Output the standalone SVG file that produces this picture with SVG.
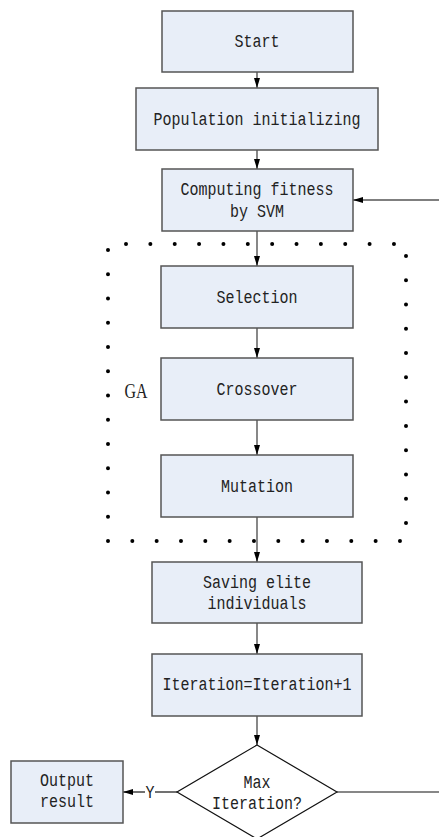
<svg xmlns="http://www.w3.org/2000/svg" width="439" height="837" viewBox="0 0 439 837">
<style>
.box{fill:#e8eef8;stroke:#555;stroke-width:1.5}
.t{font-family:"Liberation Mono","DejaVu Sans Mono",monospace;font-size:18px;fill:#222;text-anchor:middle}
.c{stroke:#555;stroke-width:1.4;fill:none}
.k{stroke:#111;stroke-width:1.2;fill:none}
.dot{stroke:#000;stroke-width:4;stroke-linecap:round;fill:none}
</style>
<defs>
<marker id="ah" viewBox="0 0 10 6" refX="10" refY="3" markerWidth="10" markerHeight="6" markerUnits="userSpaceOnUse" orient="auto">
<path d="M0,0 L10,3 L0,6 Z" fill="#000"/>
</marker>
</defs>
<rect width="439" height="837" fill="#fff"/>
<g id="ga-border">
<line class="dot" x1="126" y1="244" x2="394" y2="244" stroke-dasharray="0 24.36"/>
<line class="dot" x1="108" y1="250" x2="108" y2="541" stroke-dasharray="0 24.25"/>
<line class="dot" x1="108" y1="541" x2="400" y2="541" stroke-dasharray="0 24.33"/>
<line class="dot" x1="406" y1="256" x2="406" y2="523" stroke-dasharray="0 24.27"/>
<text class="t" x="136" y="398" style="font-family:'Liberation Serif',serif;font-size:20px" textLength="23" lengthAdjust="spacingAndGlyphs">GA</text>
</g>
<g id="connectors">
<line class="c" x1="257" y1="72" x2="257" y2="88" marker-end="url(#ah)"/>
<line class="c" x1="257" y1="150" x2="257" y2="169" marker-end="url(#ah)"/>
<line class="c" x1="439" y1="200" x2="353" y2="200" marker-end="url(#ah)"/>
<line class="c" x1="257" y1="231" x2="257" y2="266" marker-end="url(#ah)"/>
<line class="c" x1="257" y1="328" x2="257" y2="358" marker-end="url(#ah)"/>
<line class="c" x1="257" y1="420" x2="257" y2="455" marker-end="url(#ah)"/>
<line class="c" x1="257" y1="517" x2="257" y2="562" marker-end="url(#ah)"/>
<line class="c" x1="257" y1="623" x2="257" y2="654" marker-end="url(#ah)"/>
<line class="c" x1="257" y1="716" x2="257" y2="745" marker-end="url(#ah)"/>
<line class="k" x1="177" y1="792" x2="155" y2="792"/>
<line class="k" x1="145" y1="792" x2="123" y2="792" marker-end="url(#ah)"/>
<text class="t" x="150" y="798" textLength="9" lengthAdjust="spacingAndGlyphs">Y</text>
<line class="k" x1="337" y1="792" x2="439" y2="792"/>
</g>
<g id="start"><rect class="box" x="162" y="11" width="191" height="61"/><text class="t" x="257" y="47" textLength="45" lengthAdjust="spacingAndGlyphs">Start</text></g>
<g id="population"><rect class="box" x="136" y="88" width="242" height="62"/><text class="t" x="257" y="125" textLength="207" lengthAdjust="spacingAndGlyphs">Population initializing</text></g>
<g id="fitness"><rect class="box" x="162" y="169" width="191" height="62"/><text class="t" x="257" y="195" textLength="153" lengthAdjust="spacingAndGlyphs">Computing fitness</text><text class="t" x="257" y="217" textLength="54" lengthAdjust="spacingAndGlyphs">by SVM</text></g>
<g id="selection"><rect class="box" x="161" y="266" width="192" height="62"/><text class="t" x="257" y="303" textLength="81" lengthAdjust="spacingAndGlyphs">Selection</text></g>
<g id="crossover"><rect class="box" x="161" y="358" width="192" height="62"/><text class="t" x="257" y="395" textLength="81" lengthAdjust="spacingAndGlyphs">Crossover</text></g>
<g id="mutation"><rect class="box" x="161" y="455" width="192" height="62"/><text class="t" x="257" y="492" textLength="72" lengthAdjust="spacingAndGlyphs">Mutation</text></g>
<g id="saving"><rect class="box" x="152" y="562" width="210" height="61"/><text class="t" x="257" y="588" textLength="108" lengthAdjust="spacingAndGlyphs">Saving elite</text><text class="t" x="257" y="609" textLength="99" lengthAdjust="spacingAndGlyphs">individuals</text></g>
<g id="iteration"><rect class="box" x="152" y="654" width="210" height="62"/><text class="t" x="257" y="690" textLength="189" lengthAdjust="spacingAndGlyphs">Iteration=Iteration+1</text></g>
<g id="decision"><path d="M257,745 L337,792 L257,839 L177,792 Z" fill="#fff" stroke="#111" stroke-width="1.2"/><text class="t" x="257" y="788" textLength="27" lengthAdjust="spacingAndGlyphs">Max</text><text class="t" x="257" y="809" textLength="90" lengthAdjust="spacingAndGlyphs">Iteration?</text></g>
<g id="output"><rect class="box" x="11" y="761" width="112" height="62"/><text class="t" x="67" y="786" textLength="54" lengthAdjust="spacingAndGlyphs">Output</text><text class="t" x="67" y="807" textLength="54" lengthAdjust="spacingAndGlyphs">result</text></g>
</svg>
